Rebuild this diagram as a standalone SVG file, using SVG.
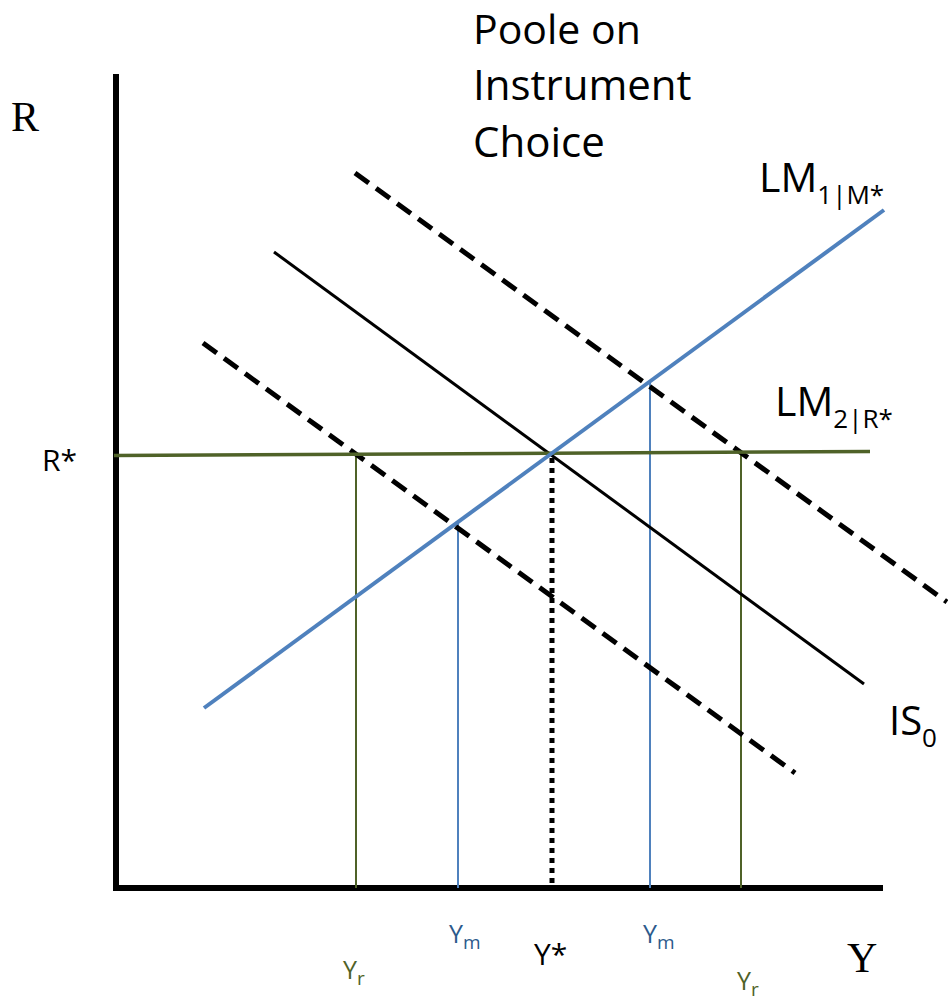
<svg xmlns="http://www.w3.org/2000/svg" width="948" height="1003" viewBox="0 0 948 1003">
<style>
.t{font-family:"Open Sans","Liberation Sans",sans-serif;fill:#000}
.s{font-family:"Liberation Serif",serif;fill:#000}
.blue{stroke:#4F81BD;fill:none}
.green{stroke:#4F6228;fill:none}
.blk{stroke:#000;fill:none}
.ym{fill:#2C5A8C}
.yr{fill:#4F6228}
</style>
<rect width="948" height="1003" fill="#fff"/>
<g id="axes">
<line class="blk" x1="116" y1="74" x2="116" y2="891" stroke-width="6"/>
<line class="blk" x1="113" y1="888" x2="883" y2="888" stroke-width="6"/>
</g>
<g id="connectors">
<line class="green" x1="356" y1="455" x2="356" y2="888" stroke-width="2"/>
<line class="green" x1="741" y1="453" x2="741" y2="888" stroke-width="2"/>
<line class="blue" x1="458" y1="523" x2="458" y2="888" stroke-width="2"/>
<line class="blue" x1="650" y1="382" x2="650" y2="888" stroke-width="2"/>
<line class="blk" x1="552" y1="458" x2="552" y2="888" stroke-width="5" stroke-dasharray="5 5"/>
<line class="blk" x1="355" y1="173" x2="947" y2="602" stroke-width="5" stroke-dasharray="17 9"/>
<line class="blk" x1="203" y1="343" x2="795" y2="773" stroke-width="5" stroke-dasharray="17 9"/>
<line class="blk" x1="274" y1="252" x2="864" y2="684" stroke-width="3"/>
<line class="green" x1="114" y1="455.5" x2="870" y2="451.5" stroke-width="3.5"/>
<line class="blue" x1="204" y1="708" x2="884" y2="210" stroke-width="4"/>
</g>
<g id="title"><text class="t" font-size="41" x="473" y="44">Poole on</text><text class="t" font-size="42" x="473" y="100">Instrument</text><text class="t" font-size="42" x="473" y="157">Choice</text></g>
<g id="axis-labels">
<text class="s" font-size="42" x="11" y="131">R</text>
<text class="s" font-size="42" x="847" y="972">Y</text>
<text class="t" font-size="30" x="42" y="471">R*</text>
</g>
<g id="lm1"><text class="t" font-size="41" x="759" y="192">LM<tspan font-size="26" dy="12">1|M*</tspan></text></g>
<g id="lm2"><text class="t" font-size="41" x="775" y="416">LM<tspan font-size="26" dy="12">2|R*</tspan></text></g>
<g id="is0"><text class="t" font-size="40" x="889" y="735">IS<tspan font-size="26" dy="12">0</tspan></text></g>
<g id="ticks">
<text class="t ym" font-size="25" x="449" y="943">Y<tspan font-size="19" dy="6">m</tspan></text>
<text class="t ym" font-size="25" x="643" y="943">Y<tspan font-size="19" dy="6">m</tspan></text>
<text class="t" font-size="30" x="534" y="965">Y*</text>
<text class="t yr" font-size="25" x="343" y="979">Y<tspan font-size="19" dy="6">r</tspan></text>
<text class="t yr" font-size="25" x="737" y="990">Y<tspan font-size="19" dy="6">r</tspan></text>
</g>
</svg>
